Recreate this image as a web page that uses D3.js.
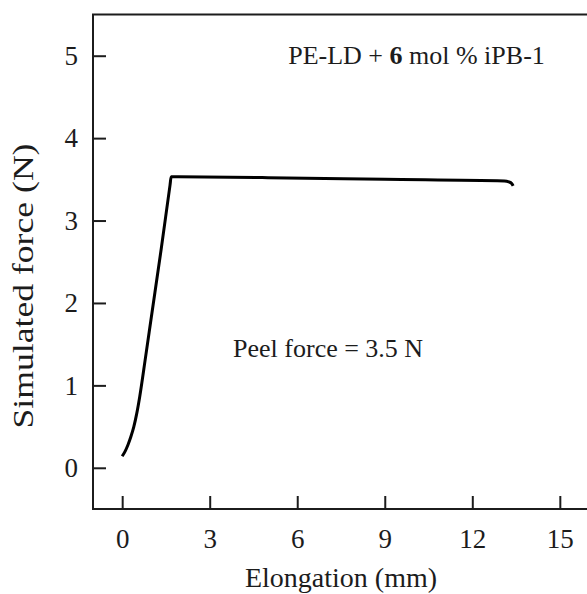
<!DOCTYPE html>
<html>
<head>
<meta charset="utf-8">
<script src="https://cdn.jsdelivr.net/npm/d3@7"></script>
<style>
  html, body { margin: 0; padding: 0; background: #fff; }
  svg { display: block; font-family: 'Liberation Serif', 'Times New Roman', serif; }
</style>
</head>
<body>
<div id="chart"></div>
<script>
  // Simulated peel curve
  const elongation = [0, 0.1, 0.2, 0.3, 0.4, 0.5, 0.6, 0.8, 1.0, 1.34, 1.64, 1.68, 5, 9, 13.1, 13.25, 13.35, 13.4];
  const force = [0.14, 0.2, 0.28, 0.38, 0.5, 0.66, 0.86, 1.34, 1.83, 2.66, 3.43, 3.53, 3.52, 3.5, 3.48, 3.47, 3.45, 3.42];

  const xTicks = [0, 3, 6, 9, 12, 15];
  const yTicks = [0, 1, 2, 3, 4, 5];

  const width = 587;
  const height = 594;

  const svg = d3
    .select('#chart')
    .append('svg')
    .attr('width', width)
    .attr('height', height);

  /* Scales
  =========================================================================*/
  const xScale = d3.scaleLinear().domain([-1, 16]).range([93, 589]);
  const yScale = d3.scaleLinear().domain([-0.5, 5.5]).range([509, 14.5]);

  const ink = '#1c1c1c';

  // frame
  svg
    .append('rect')
    .attr('x', xScale(-1))
    .attr('y', yScale(5.5))
    .attr('width', xScale(16) - xScale(-1))
    .attr('height', yScale(-0.5) - yScale(5.5))
    .attr('fill', 'none')
    .attr('stroke', ink)
    .attr('stroke-width', 2);

  /* Axes
  =========================================================================*/
  const xAxis = d3
    .axisBottom(xScale)
    .tickValues(xTicks)
    .tickFormat(d3.format('d'))
    .tickSizeInner(-13)
    .tickSizeOuter(0)
    .tickPadding(20);

  const gx = svg.append('g').attr('transform', `translate(0, ${yScale(-0.5)})`).call(xAxis);

  const yAxis = d3
    .axisLeft(yScale)
    .tickValues(yTicks)
    .tickFormat(d3.format('d'))
    .tickSizeInner(-13)
    .tickSizeOuter(0)
    .tickPadding(15);

  const gy = svg.append('g').attr('transform', `translate(${xScale(-1)}, 0)`).call(yAxis);

  [gx, gy].forEach((g) => {
    g.select('.domain').remove();
    g.selectAll('.tick line').attr('stroke', ink).attr('stroke-width', 2);
    g.selectAll('.tick text')
      .attr('fill', ink)
      .style('font-family', "'Liberation Serif', serif")
      .style('font-size', '27px');
  });

  // axis titles
  svg
    .append('text')
    .attr('x', 341)
    .attr('y', 587)
    .attr('text-anchor', 'middle')
    .attr('fill', ink)
    .style('font-size', '28px')
    .text('Elongation (mm)');

  svg
    .append('text')
    .attr('transform', `translate(33, 286) rotate(-90)`)
    .attr('text-anchor', 'middle')
    .attr('fill', ink)
    .attr('textLength', 285)
    .attr('lengthAdjust', 'spacingAndGlyphs')
    .style('font-size', '30px')
    .text('Simulated force (N)');

  /* Curve
  =========================================================================*/
  const points = elongation.map((e, i) => [e, force[i]]);

  const line = d3
    .line()
    .x((d) => xScale(d[0]))
    .y((d) => yScale(d[1]))
    .curve(d3.curveMonotoneX);

  svg
    .append('path')
    .datum(points)
    .attr('d', line)
    .attr('fill', 'none')
    .attr('stroke', '#000')
    .attr('stroke-width', 3)
    .attr('stroke-linejoin', 'round');

  /* Annotations
  =========================================================================*/
  svg
    .append('text')
    .attr('x', xScale(3.8))
    .attr('y', yScale(1.34))
    .attr('fill', ink)
    .style('font-size', '26px')
    .text('Peel force = 3.5 N');

  const label = svg
    .append('text')
    .attr('x', xScale(5.69))
    .attr('y', yScale(4.9))
    .attr('fill', ink)
    .style('font-size', '26px');

  label.append('tspan').text('PE-LD + ');
  label.append('tspan').attr('font-weight', 'bold').text('6');
  label.append('tspan').text(' mol % iPB-1');
</script>
</body>
</html>
